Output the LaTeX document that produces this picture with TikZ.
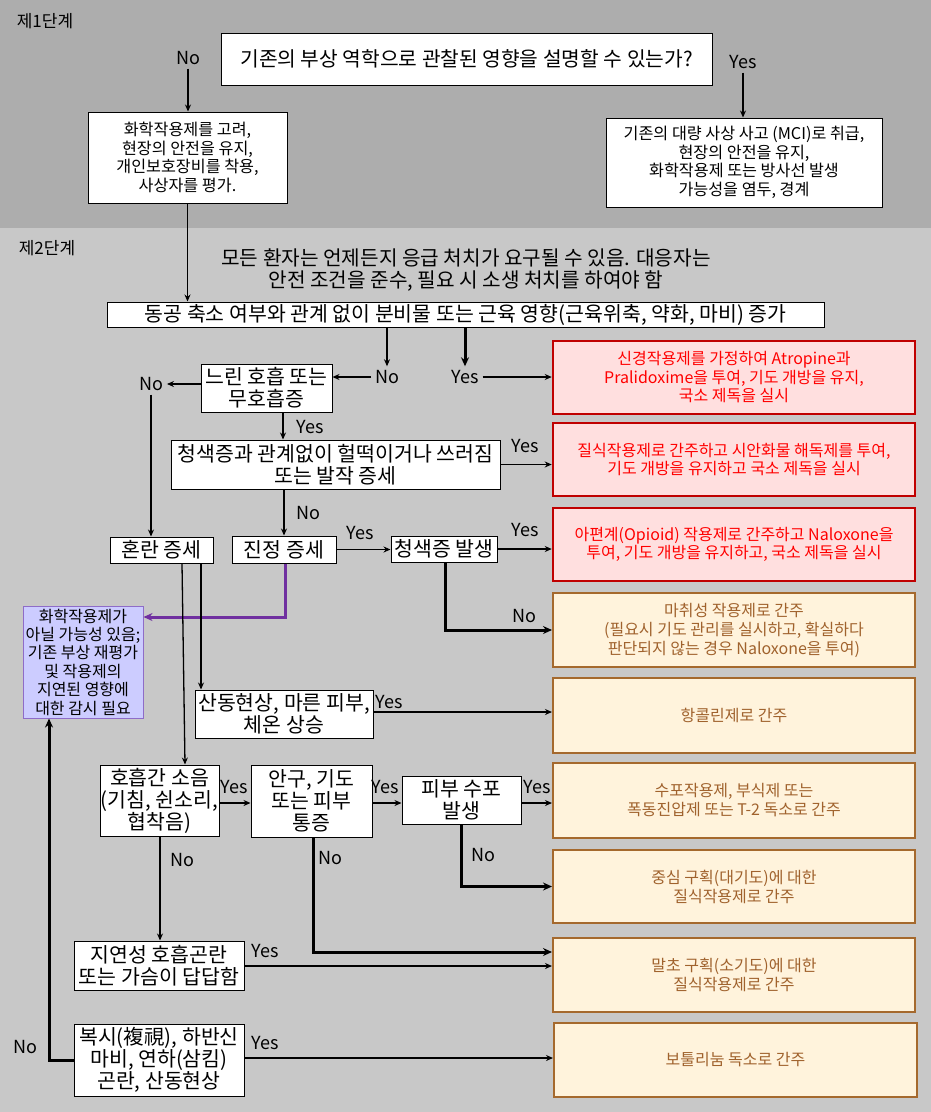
\documentclass[tikz,border=0pt]{standalone}
\usepackage{fontspec}
\setmainfont{Noto Sans CJK KR}
\usetikzlibrary{arrows.meta}
\definecolor{bgtop}{HTML}{ADADAD}
\definecolor{bgbot}{HTML}{C8C8C8}
\definecolor{redb}{HTML}{C00000}
\definecolor{redf}{HTML}{FFDFDF}
\definecolor{redt}{HTML}{FF0000}
\definecolor{orb}{HTML}{A5692D}
\definecolor{orf}{HTML}{FFF3DC}
\definecolor{ort}{HTML}{A0622D}
\definecolor{purf}{HTML}{CCCCFF}
\definecolor{purb}{HTML}{8E6CC8}
\definecolor{pura}{HTML}{7030A0}
\begin{document}
\begin{tikzpicture}[x=1pt,y=-1pt,
 wbox/.style={draw=black, fill=white, line width=1pt, align=center, inner sep=0pt, font=\fontsize{20.5}{22}\selectfont},
 sbox/.style={wbox, font=\fontsize{16.2}{18.5}\selectfont},
 rbox/.style={draw=redb, fill=redf, text=redt, line width=2.5pt, align=center, inner sep=0pt, minimum width=362pt, font=\fontsize{16}{18.5}\selectfont},
 obox/.style={draw=orb, fill=orf, text=ort, line width=2pt, align=center, inner sep=0pt, minimum width=362pt, font=\fontsize{16}{19}\selectfont},
 pbox/.style={draw=purb, fill=purf, line width=1pt, align=center, inner sep=0pt, font=\fontsize{16}{18.4}\selectfont},
 lab/.style={font=\fontsize{18}{18}\selectfont, inner sep=0pt, outer sep=4pt},
 phase/.style={font=\fontsize{17}{17}\selectfont, inner sep=0pt},
 tarrow/.style={line width=1.3pt, -{Stealth[length=7pt,width=6pt]}},
 Tarrow/.style={line width=3pt, -{Stealth[length=9pt,width=8pt]}},
 parrow/.style={line width=3pt, draw=pura, -{Stealth[length=9pt,width=8pt]}},
]
\useasboundingbox (0,0) rectangle (931,1112);
\fill[bgtop] (0,0) rectangle (931,228);
\fill[bgbot] (0,228) rectangle (931,1112);

% phase labels
\node[phase] (ph1) at (45,21) {제1단계};
\node[phase] (ph2) at (47,248) {제2단계};

% phase 1
\node[wbox, minimum width=491pt, minimum height=52pt, font=\fontsize{20.3}{22}\selectfont] (q) at (466.5,59) {기존의 부상 역학으로 관찰된 영향을 설명할 수 있는가?};
\node[sbox, minimum width=199pt, minimum height=91pt] (p1L) at (187.5,157.5) {화학작용제를 고려,\\현장의 안전을 유지,\\개인보호장비를 착용,\\사상자를 평가.};
\node[sbox, minimum width=276pt, minimum height=89pt] (p1R) at (744,162.5) {기존의 대량 사상 사고 (MCI)로 취급,\\현장의 안전을 유지,\\화학작용제 또는 방사선 발생\\가능성을 염두, 경계};
\node[lab] (noA) at (188,58) {No};
\node[lab] (yesA) at (743,62) {Yes};
\draw[tarrow] (noA.south) -- (noA.south |- p1L.north);
\draw[tarrow] (yesA.south) -- (yesA.south |- p1R.north);

% phase 2 note
\node[inner sep=0pt, align=center, font=\fontsize{20.2}{22}\selectfont] (note) at (466,270) {모든 환자는 언제든지 응급 처치가 요구될 수 있음. 대응자는\\안전 조건을 준수, 필요 시 소생 처치를 하여야 함};

\node[wbox, minimum width=717pt, minimum height=25pt, font=\fontsize{20.5}{22}\selectfont] (dg) at (465.5,314.5) {동공 축소 여부와 관계 없이 분비물 또는 근육 영향(근육위축, 약화, 마비) 증가};
\draw[tarrow] (p1L.south) -- (p1L.south |- dg.north);

% left column boxes
\node[wbox, minimum width=131pt, minimum height=48pt] (slow) at (266.5,388) {느린 호흡 또는\\무호흡증};
\node[wbox, minimum width=329pt, minimum height=49pt] (cyan) at (335.5,464.5) {청색증과 관계없이 헐떡이거나 쓰러짐\\또는 발작 증세};
\node[wbox, minimum width=103pt, minimum height=26pt] (conf) at (161.5,550) {혼란 증세};
\node[wbox, minimum width=104pt, minimum height=27pt] (sed) at (284,549.5) {진정 증세};
\node[wbox, minimum width=106pt, minimum height=26pt] (cyo) at (444,549) {청색증 발생};
\node[pbox, minimum width=120pt, minimum height=112pt] (pur) at (83,662) {화학작용제가\\아닐 가능성 있음;\\기존 부상 재평가\\및 작용제의\\지연된 영향에\\대한 감시 필요};
\node[wbox, minimum width=178pt, minimum height=48pt] (myd) at (284,714) {산동현상, 마른 피부,\\체온 상승};
\node[wbox, minimum width=119pt, minimum height=71pt] (noise) at (159.5,800.5) {호흡간 소음\\(기침, 쉰소리,\\협착음)};
\node[wbox, minimum width=121pt, minimum height=72pt] (eye) at (311.5,801) {안구, 기도\\또는 피부\\통증};
\node[wbox, minimum width=119pt, minimum height=48pt] (skin) at (461.5,800) {피부 수포\\발생};
\node[wbox, minimum width=170pt, minimum height=49pt] (delay) at (159,965.5) {지연성 호흡곤란\\또는 가슴이 답답함};
\node[wbox, minimum width=170pt, minimum height=72pt] (dip) at (159,1060) {복시(複視), 하반신\\마비, 연하(삼킴)\\곤란, 산동현상};

% right column boxes
\node[rbox, minimum height=73pt] (R1) at (734,377.5) {신경작용제를 가정하여 Atropine과\\Pralidoxime을 투여, 기도 개방을 유지,\\국소 제독을 실시};
\node[rbox, minimum height=73pt] (R2) at (734,459.5) {질식작용제로 간주하고 시안화물 해독제를 투여,\\기도 개방을 유지하고 국소 제독을 실시};
\node[rbox, minimum height=73pt] (R3) at (734,544.5) {아편계(Opioid) 작용제로 간주하고 Naloxone을\\투여, 기도 개방을 유지하고, 국소 제독을 실시};
\node[obox, minimum height=74pt] (O1) at (734,630) {마취성 작용제로 간주\\(필요시 기도 관리를 실시하고, 확실하다\\판단되지 않는 경우 Naloxone을 투여)};
\node[obox, minimum height=75pt] (O2) at (734,715.5) {항콜린제로 간주};
\node[obox, minimum height=75pt] (O3) at (734,800.5) {수포작용제, 부식제 또는\\폭동진압제 또는 T-2 독소로 간주};
\node[obox, minimum height=73pt] (O4) at (734,886.5) {중심 구획(대기도)에 대한\\질식작용제로 간주};
\node[obox, minimum height=74pt] (O5) at (734,975) {말초 구획(소기도)에 대한\\질식작용제로 간주};
\node[obox, minimum height=74pt, minimum width=363pt] (O6) at (735.5,1060) {보툴리눔 독소로 간주};

% labels
\node[lab] (noB) at (387,377) {No};
\node[lab] (yesB) at (465,377) {Yes};
\node[lab] (noC) at (151,384) {No};
\node[lab] (yesC) at (310,427) {Yes};
\node[lab] (yesD) at (525,446) {Yes};
\node[lab] (noD) at (308,513) {No};
\node[lab] (yesE) at (360,533) {Yes};
\node[lab] (yesF) at (525,530) {Yes};
\node[lab] (noE) at (524,616) {No};
\node[lab] (yesG) at (389,702) {Yes};
\node[lab] (yesH) at (234,787) {Yes};
\node[lab] (yesI) at (385,787) {Yes};
\node[lab] (yesJ) at (537,787) {Yes};
\node[lab] (noF) at (182,860) {No};
\node[lab] (noG) at (330,858) {No};
\node[lab] (noH) at (483,855) {No};
\node[lab] (yesK) at (265,951) {Yes};
\node[lab] (yesL) at (265,1043) {Yes};
\node[lab] (noI) at (25,1047) {No};

% connectors
\draw[tarrow] (387,0 |- dg.south) -- (noB.north);
\draw[tarrow] (noB.west) -- (noB.west -| slow.east);
\draw[Tarrow] (465,0 |- dg.south) -- (yesB.north);
\draw[tarrow] (yesB.east) -- (yesB.east -| R1.west);
\draw[tarrow] (slow.west |- 0,384) -- (noC.east);
\draw[tarrow] (noC.south) -- (noC.south |- conf.north);
\draw[tarrow] (283,0 |- slow.south) -- (283,0 |- cyan.north);
\draw[tarrow] (cyan.east) -- (cyan.east -| R2.west);
\draw[tarrow] (284,0 |- cyan.south) -- (284,0 |- sed.north);
\draw[tarrow] (sed.east) -- (sed.east -| cyo.west);
\draw[tarrow] (cyo.east) -- (cyo.east -| R3.west);
\draw[Tarrow] (445,0 |- cyo.south) |- (O1.west);
\draw[parrow] (285,0 |- sed.south) |- (pur.east |- 0,617);
\draw[tarrow] (182,0 |- conf.south) -- (185,0 |- noise.north);
\draw[tarrow] (201,0 |- conf.south) -- (201,0 |- myd.north);
\draw[tarrow] (myd.east |- 0,712) -- (O2.west |- 0,712);
\draw[tarrow] (noise.east |- 0,803) -- (eye.west |- 0,803);
\draw[tarrow] (eye.east |- 0,803) -- (skin.west |- 0,803);
\draw[tarrow] (skin.east |- 0,803) -- (O3.west |- 0,803);
\draw[tarrow] (160,0 |- noise.south) -- (160,0 |- delay.north);
\draw[Tarrow] (313,0 |- eye.south) |- (O5.west |- 0,952);
\draw[Tarrow] (461,0 |- skin.south) |- (O4.west);
\draw[tarrow] (delay.east |- 0,966) -- (O5.west |- 0,966);
\draw[tarrow] (dip.east |- 0,1058) -- (O6.west |- 0,1058);
\draw[Tarrow] (dip.west) -| (49,0 |- pur.south);
\end{tikzpicture}
\end{document}
